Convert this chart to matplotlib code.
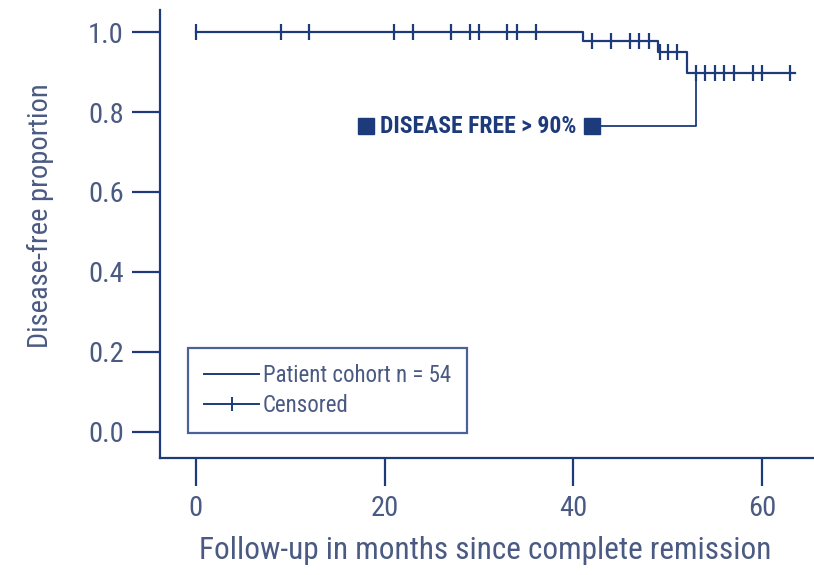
import matplotlib
matplotlib.use("Agg")
import matplotlib.pyplot as plt
from matplotlib.lines import Line2D

# Data
step_times = [0, 41, 49, 52, 63.5]
step_values = [1.0, 0.978, 0.951, 0.898, 0.898]
censored_times = [0, 9, 12, 21, 23, 27, 29, 30, 33, 34, 36,
                  42, 44, 46, 47, 48,
                  49.2, 50, 51,
                  53, 54, 55, 56, 57, 59, 60, 63]
x_ticks = [0, 20, 40, 60]
y_ticks = [0.0, 0.2, 0.4, 0.6, 0.8, 1.0]
annot_text = "DISEASE FREE > 90%"
annot_x_line = 53
annot_y = 0.765
annot_x_square_right = 42
annot_x_square_left = 18

NAVY = "#1d3b7b"
TEXT = "#4a5a82"
plt.rcParams['font.family'] = ['Roboto Condensed', 'DejaVu Sans']
plt.rcParams['font.weight'] = 'normal'

def surv_at(t):
    v = step_values[0]
    for st, sv in zip(step_times, step_values):
        if t >= st:
            v = sv
    return v

fig = plt.figure(figsize=(8.14, 5.75), dpi=100)
ax = fig.add_axes([0.1966, 0.2035, 0.8034, 0.7791])

ax.step(step_times, step_values, where='post', color=NAVY, lw=1.6)
cy = [surv_at(t) for t in censored_times]
ax.plot(censored_times, cy, ls='none', marker='|', ms=12, mew=1.6, color=NAVY)

# annotation
ax.plot([annot_x_line, annot_x_line, annot_x_square_right],
        [step_values[3], annot_y, annot_y], color=NAVY, lw=1.3)
ax.plot([annot_x_square_right], [annot_y], marker='s', ms=11, color=NAVY, ls='none')
ax.plot([annot_x_square_left], [annot_y], marker='s', ms=11, color=NAVY, ls='none')
ax.text(annot_x_square_left + 1.5, annot_y, annot_text, color=NAVY,
        fontsize=17, fontweight='bold', va='center', ha='left')

ax.set_xlim(-3.8, 65.5)
ax.set_ylim(-0.065, 1.055)
ax.set_xticks(x_ticks)
ax.set_yticks(y_ticks)
ax.set_xticklabels([str(t) for t in x_ticks])
ax.set_yticklabels([f"{t:.1f}" for t in y_ticks])

for s in ['top', 'right']:
    ax.spines[s].set_visible(False)
for s in ['left', 'bottom']:
    ax.spines[s].set_color(NAVY)
    ax.spines[s].set_linewidth(1.6)
ax.tick_params(axis='both', colors=NAVY, width=1.6, length=20, labelsize=20.5,
               labelcolor=TEXT)
ax.tick_params(axis='y', pad=6)
ax.tick_params(axis='x', pad=7)

ax.set_xlabel("Follow-up in months since complete remission", fontsize=22.5,
              color=TEXT)
ax.xaxis.set_label_coords(0.497, -0.175)
ax.set_ylabel("Disease-free proportion", fontsize=20.5, color=TEXT)
ax.yaxis.set_label_coords(-0.162, 0.54)

handles = [Line2D([0], [0], color=NAVY, lw=1.4),
           Line2D([0], [0], color=NAVY, lw=1.4, marker='|', ms=10, mew=1.4)]
leg = ax.legend(handles, ["Patient cohort n = 54", "Censored"],
                loc='lower left', bbox_to_anchor=(0.043, 0.056),
                prop={'size': 16.5}, frameon=True, fancybox=False,
                handlelength=2.4, handletextpad=0.15, borderpad=0.7,
                labelspacing=0.3, labelcolor=TEXT, borderaxespad=0)
leg.get_frame().set_edgecolor(NAVY)
leg.get_frame().set_linewidth(1.6)

fig.savefig("out.png", dpi=100)
